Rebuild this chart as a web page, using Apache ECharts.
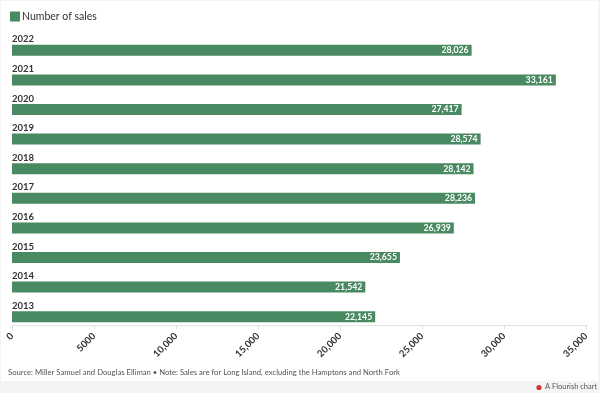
<!DOCTYPE html>
<html><head><meta charset="utf-8">
<script src="https://cdn.jsdelivr.net/npm/echarts@6/dist/echarts.min.js"></script>
<style>html,body{margin:0;padding:0;background:#f4f4f4;}#c{width:600px;height:393px;}</style>
</head><body><div id="c"></div>
<script>
const years = ['2022','2021','2020','2019','2018','2017','2016','2015','2014','2013'];
const sales = [28026, 33161, 27417, 28574, 28142, 28236, 26939, 23655, 21542, 22145];
const tickLabels = ['0','5000','10,000','15,000','20,000','25,000','30,000','35,000'];
const seriesName = 'Number of sales';
const sourceText = 'Source: Miller Samuel and Douglas Elliman \u2022 Note: Sales are for Long Island, excluding the Hamptons and North Fork';

const FONT = 'Lato, "Open Sans", sans-serif';
const chart = echarts.init(document.getElementById('c'), null, {renderer:'canvas'});
chart.setOption({
  backgroundColor: '#f4f4f4',
  animation: false,
  textStyle: {fontFamily: FONT},
  graphic: [
    {type:'rect', z:-10, shape:{x:1, y:1, width:597, height:380}, style:{fill:'#ffffff'}},
    {type:'text', left:8, top:369, style:{text: sourceText, fill:'#555', font:'7.7px ' + FONT}},
    {type:'circle', shape:{cx:539, cy:387.5, r:2.6}, style:{fill:'#d0342c'}},
    {type:'text', left:545, top:383, style:{text:'A Flourish chart', fill:'#555', font:'7.5px ' + FONT}}
  ],
  legend: {
    left: 5, top: 6, itemWidth: 10, itemHeight: 10, itemGap: 10,
    icon: 'rect',
    textStyle: {color:'#333', fontSize: 10.5, fontFamily: FONT, padding:[0,0,0,-3]},
    data: [seriesName]
  },
  grid: {left: 12, right: 14, top: 35.5, height: 296, containLabel: false},
  xAxis: {
    type: 'value', min: 0, max: 35000, interval: 5000,
    offset: -6,
    axisLine: {show: true, lineStyle: {color:'#e3e3e3'}},
    axisTick: {show: true, length: 4, lineStyle: {color:'#ddd'}},
    splitLine: {show: false},
    axisLabel: {
      rotate: 45, margin: 9, color:'#333', fontWeight:'bold', fontSize: 9.5, fontFamily: FONT,
      formatter: (v) => tickLabels[Math.round(v/5000)]
    }
  },
  yAxis: {
    type: 'category', data: years, inverse: true,
    axisLine: {show:false}, axisTick: {show:false},
    axisLabel: {
      inside: true, align:'left', verticalAlign:'bottom', margin: 0,
      padding: [0,0,6,0], color:'#333', fontWeight:'bold', fontSize: 9.5, fontFamily: FONT
    }
  },
  series: [{
    name: seriesName, type: 'bar', data: sales, barWidth: 11,
    itemStyle: {color:'#4a8a62'},
    label: {
      show: true, position: 'insideRight', distance: 3, color:'#fff', fontWeight:'bold',
      fontSize: 8.7, fontFamily: FONT,
      formatter: (p) => p.value.toLocaleString('en-US')
    }
  }]
});
</script></body></html>
